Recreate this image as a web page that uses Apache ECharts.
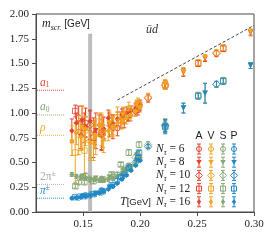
<!DOCTYPE html>
<html><head><meta charset="utf-8">
<script src="https://cdn.jsdelivr.net/npm/echarts@6/dist/echarts.min.js"></script>
<style>html,body{margin:0;padding:0;background:#fff}#c{width:274px;height:240px}</style>
</head><body><div id="c"></div>
<script>
// temperatures (GeV) per N_tau
const T16=[0.140,0.144,0.148,0.152,0.156,0.160,0.164,0.168,0.172,0.176,0.180,0.184,0.188,0.192,0.196,0.200];
const T12=[0.143,0.151,0.159,0.167,0.175,0.183,0.190,0.199,0.222,0.251,0.273];
const T10=[0.146,0.156,0.166,0.176,0.186,0.196,0.207,0.222,0.267];
const T8=[0.149,0.161,0.173,0.185,0.197,0.222,0.238,0.257,0.297];
const T6=[0.152,0.166,0.180,0.190,0.198];

// A channel
const A16=[0.82,0.90,0.78,0.86,0.92,0.80,0.88,0.84,0.95,0.90,0.94,0.98,1.00,1.02,1.05,1.08];
const eA16=[0.12,0.10,0.14,0.10,0.10,0.12,0.10,0.12,0.08,0.08,0.07,0.06,0.06,0.05,0.05,0.05];
const A12=[1.02,0.85,0.75,0.80,0.88,0.93,0.98,1.08,1.28,1.50,1.65];
const eA12=[0.06,0.15,0.20,0.15,0.10,0.08,0.06,0.05,0.04,0.03,0.03];
const A10=[0.95,0.88,0.80,0.86,0.93,1.02,1.15,1.28,1.60];
const eA10=[0.12,0.15,0.18,0.12,0.08,0.05,0.04,0.04,0.03];
const A8=[0.92,0.82,0.88,0.97,1.07,1.29,1.41,1.55,1.81];
const eA8=[0.15,0.18,0.12,0.08,0.05,0.04,0.04,0.03,0.03];
const A6=[0.90,0.78,0.85,0.98,1.03];
const eA6=[0.15,0.15,0.08,0.06,0.05];

// V channel
const V16=[0.72,0.80,0.76,0.84,0.70,0.78,0.88,0.74,0.82,0.86,0.90,0.92,0.95,0.98,1.02,1.06];
const eV16=[0.15,0.12,0.14,0.12,0.16,0.13,0.12,0.14,0.10,0.10,0.08,0.08,0.06,0.06,0.05,0.05];
const V12=[0.60,0.62,0.72,0.80,0.86,0.92,1.00,1.08,1.28,1.51,1.66];
const eV12=[0.30,0.25,0.20,0.15,0.10,0.08,0.06,0.05,0.04,0.03,0.03];
const V10=[0.78,0.72,0.82,0.88,0.96,1.04,1.16,1.28,1.61];
const eV10=[0.20,0.20,0.15,0.10,0.07,0.05,0.04,0.04,0.03];
const V8=[0.85,0.76,0.90,0.98,1.08,1.30,1.42,1.56,1.82];
const eV8=[0.22,0.18,0.12,0.08,0.05,0.04,0.04,0.03,0.03];
const V6=[0.82,0.88,0.96,1.05,1.10];
const eV6=[0.15,0.12,0.10,0.06,0.05];

// S channel
const S16=[0.38,0.36,0.35,0.34,0.33,0.33,0.32,0.32,0.33,0.34,0.36,0.39,0.42,0.46,0.50,0.55];
const eS16=[0.02,0.02,0.02,0.02,0.02,0.02,0.02,0.02,0.02,0.02,0.02,0.02,0.02,0.02,0.02,0.02];
const S12=[0.26,0.30,0.31,0.33,0.38,0.48,0.60,0.68,0.87,1.18,1.33];
const eS12=[0.02,0.02,0.02,0.02,0.02,0.02,0.03,0.03,0.06,0.03,0.03];
const S10=[0.30,0.33,0.33,0.36,0.43,0.55,0.68,0.88,1.29];
const eS10=[0.02,0.02,0.02,0.02,0.02,0.03,0.03,0.06,0.03];
const S8=[0.36,0.34,0.35,0.42,0.57,0.87,1.05,1.20,1.48];
const eS8=[0.02,0.02,0.02,0.02,0.03,0.07,0.05,0.10,0.03];
const S6=[0.37,0.33,0.38,0.47,0.58];
const eS6=[0.02,0.02,0.02,0.02,0.03];

// P channel
const P16=[0.14,0.145,0.15,0.16,0.17,0.18,0.19,0.21,0.23,0.26,0.29,0.33,0.37,0.42,0.47,0.52];
const eP16=[0.01,0.01,0.01,0.01,0.01,0.01,0.01,0.01,0.01,0.01,0.01,0.01,0.01,0.01,0.01,0.01];
const P12=[0.15,0.16,0.18,0.21,0.27,0.35,0.45,0.60,0.86,1.17,1.32];
const eP12=[0.01,0.01,0.01,0.01,0.01,0.02,0.02,0.02,0.05,0.03,0.03];
const P10=[0.15,0.17,0.20,0.27,0.38,0.50,0.66,0.87,1.29];
const eP10=[0.01,0.01,0.01,0.01,0.02,0.02,0.02,0.06,0.03];
const P8=[0.16,0.19,0.25,0.36,0.52,0.86,1.05,1.20,1.48];
const eP8=[0.01,0.01,0.01,0.02,0.02,0.07,0.05,0.10,0.03];
const P6=[0.17,0.22,0.32,0.44,0.55];
const eP6=[0.01,0.01,0.02,0.02,0.02];

// reference hadron masses
const refNames=['a1','a0','rho','2pi','pi'];
const refMasses=[1.23,0.98,0.775,0.279,0.1396];
const refSpan=[0.1094,0.134];
// crossover band and 2*pi*T line
const bandT=[0.1543,0.1578];
const bandTop=1.8;
const thermalT=[0.18,0.30];
const thermalM=[1.131,1.885];
// axes
const xTicks=[0.15,0.20,0.25,0.30];
const xRange=[0.1085,0.30];
const yRange=[0,2];

const colors={A:'#e4442f',V:'#efa522',S:'#88a676',P:'#2188c5'};
const ntaus=[6,8,10,12,16];
const temps={6:T6,8:T8,10:T10,12:T12,16:T16};
const vals={A:{6:A6,8:A8,10:A10,12:A12,16:A16},V:{6:V6,8:V8,10:V10,12:V12,16:V16},
            S:{6:S6,8:S8,10:S10,12:S12,16:S16},P:{6:P6,8:P8,10:P10,12:P12,16:P16}};
const errs={A:{6:eA6,8:eA8,10:eA10,12:eA12,16:eA16},V:{6:eV6,8:eV8,10:eV10,12:eV12,16:eV16},
            S:{6:eS6,8:eS8,10:eS10,12:eS12,16:eS16},P:{6:eP6,8:eP8,10:eP10,12:eP12,16:eP16}};
const refColors=['#e4442f','#88a676','#efa522','#aaaaaa','#2188c5'];

const markerStyle={
  6:{symbol:'circle',size:5.5,hollow:true,rot:0},
  8:{symbol:'triangle',size:5.5,hollow:false,rot:180},
  10:{symbol:'diamond',size:7.5,hollow:true,rot:0},
  12:{symbol:'rect',size:5.5,hollow:true,rot:0},
  16:{symbol:'diamond',size:5.5,hollow:false,rot:0}
};

function errRender(color){
  return function(params,api){
    const x=api.value(0),y=api.value(1),e=api.value(2);
    const lo=api.coord([x,y-e]),hi=api.coord([x,y+e]);
    const w=2;
    const st={stroke:color,lineWidth:1};
    return {type:'group',children:[
      {type:'line',shape:{x1:lo[0],y1:lo[1],x2:hi[0],y2:hi[1]},style:st},
      {type:'line',shape:{x1:lo[0]-w,y1:lo[1],x2:lo[0]+w,y2:lo[1]},style:st},
      {type:'line',shape:{x1:hi[0]-w,y1:hi[1],x2:hi[0]+w,y2:hi[1]},style:st}
    ]};
  };
}

const series=[];
series.push({type:'line',data:[],silent:true,
  markArea:{silent:true,itemStyle:{color:'#bdbdbd'},data:[[{coord:[bandT[0],0]},{coord:[bandT[1],bandTop]}]]}});
series.push({type:'line',data:[[thermalT[0],thermalM[0]],[thermalT[1],thermalM[1]]],symbol:'none',silent:true,
  lineStyle:{color:'#333',width:0.9,type:[3,2]}});
refMasses.forEach((m,i)=>{
  series.push({type:'line',data:[[refSpan[0],m],[refSpan[1],m]],symbol:'none',silent:true,
    lineStyle:{color:refColors[i],width:0.9,type:[1,1]}});
});
['A','V','S','P'].forEach(ch=>{
  ntaus.forEach(n=>{
    const d=temps[n].map((t,i)=>[t,vals[ch][n][i],errs[ch][n][i]]);
    series.push({type:'custom',renderItem:errRender(colors[ch]),data:d,encode:{x:0,y:1},clip:true,silent:true,z:3});
    const ms=markerStyle[n];
    series.push({type:'scatter',data:d.map(p=>[p[0],p[1]]),symbol:ms.symbol,symbolSize:ms.size,symbolRotate:ms.rot,silent:true,z:4,
      itemStyle:ms.hollow?{color:'rgba(255,255,255,0)',borderColor:colors[ch],borderWidth:1}:{color:colors[ch],borderWidth:0,opacity:1}});
  });
});

const chart=echarts.init(document.getElementById('c'),null,{renderer:'canvas'});
const axisCol='#4a4a4a';
const serif='Liberation Serif';
const sans='Liberation Sans';
chart.setOption({
  animation:false,
  grid:{left:36,right:20,top:14,bottom:28,show:true,borderColor:axisCol,borderWidth:1,backgroundColor:'transparent'},
  xAxis:{type:'value',min:xRange[0],max:xRange[1],
    axisLine:{show:true,lineStyle:{color:axisCol}},
    axisTick:{show:true,length:4,lineStyle:{color:axisCol},customValues:xTicks},
    axisLabel:{margin:7,color:'#222',fontFamily:serif,fontSize:11,customValues:xTicks,formatter:v=>v.toFixed(2)},
    splitLine:{show:false}},
  yAxis:{type:'value',min:yRange[0],max:yRange[1],interval:0.25,
    axisLine:{show:true,lineStyle:{color:axisCol}},
    axisTick:{show:true,length:4,lineStyle:{color:axisCol}},
    axisLabel:{margin:7,color:'#222',fontFamily:serif,fontSize:11,formatter:v=>v.toFixed(2)},
    splitLine:{show:false}},
  series:series
});

const g=[];
const it={fontFamily:serif,fontStyle:'italic'};
g.push({type:'text',x:42,y:24,style:{text:'{m|m}{s|scr.}{g| [GeV]}',verticalAlign:'middle',
  rich:{m:{...it,fontSize:12,lineHeight:16,fill:'#222'},s:{...it,fontSize:8,lineHeight:8,verticalAlign:'bottom',fill:'#222'},
        g:{fontFamily:sans,fontSize:10,lineHeight:16,fill:'#222'}}}});
g.push({type:'text',x:146,y:30,style:{text:'ūd',verticalAlign:'middle',font:'italic 12px "Liberation Serif"',fill:'#333'}});
g.push({type:'text',x:120,y:202,style:{text:'{t|T}{g|[GeV]}',verticalAlign:'middle',
  rich:{t:{...it,fontSize:12,lineHeight:16,fill:'#222'},g:{fontFamily:sans,fontSize:9.5,lineHeight:16,fill:'#222'}}}});

const refTexts=['{a|a}{s|1}','{a|a}{s|0}','{a|ρ}','{n|2π}{p|±}','{a|π}{p|±}'];
refMasses.forEach((m,i)=>{
  const p=chart.convertToPixel({gridIndex:0},[refSpan[0],m]);
  g.push({type:'text',x:p[0]+3,y:p[1]-1,style:{text:refTexts[i],verticalAlign:'bottom',
    rich:{a:{...it,fontSize:11.5,lineHeight:13,fill:refColors[i]},n:{fontFamily:serif,fontSize:11.5,lineHeight:13,fill:refColors[i]},
          s:{fontFamily:serif,fontSize:7.5,lineHeight:7,verticalAlign:'bottom',fill:refColors[i]},
          p:{fontFamily:serif,fontSize:7.5,lineHeight:7,verticalAlign:'top',fill:refColors[i]}}}});
});

const colX=[199,211,223,234];
const rowY=[149,162.2,175.4,188.6,201.8];
['A','V','S','P'].forEach((ch,j)=>{
  g.push({type:'text',x:colX[j],y:136,style:{text:ch,align:'center',verticalAlign:'middle',font:'10.5px "Liberation Sans"',fill:'#222'}});
});
function icon(n,x,y,c){
  const out=[];
  const st={stroke:c,lineWidth:1};
  out.push({type:'line',shape:{x1:x,y1:y-5,x2:x,y2:y+5},style:st});
  out.push({type:'line',shape:{x1:x-2,y1:y-5,x2:x+2,y2:y-5},style:st});
  out.push({type:'line',shape:{x1:x-2,y1:y+5,x2:x+2,y2:y+5},style:st});
  const hol={fill:'none',stroke:c,lineWidth:1};
  if(n===6) out.push({type:'circle',shape:{cx:x,cy:y,r:2.5},style:hol});
  if(n===8) out.push({type:'polygon',shape:{points:[[x-2.8,y-2.2],[x+2.8,y-2.2],[x,y+2.6]]},style:{fill:c}});
  if(n===10) out.push({type:'polygon',shape:{points:[[x,y-3.5],[x+3.5,y],[x,y+3.5],[x-3.5,y]]},style:hol});
  if(n===12) out.push({type:'rect',shape:{x:x-2.5,y:y-2.5,width:5,height:5},style:hol});
  if(n===16) out.push({type:'polygon',shape:{points:[[x,y-2.8],[x+2.2,y],[x,y+2.8],[x-2.2,y]]},style:{fill:c}});
  return out;
}
ntaus.forEach((n,r)=>{
  g.push({type:'text',x:156,y:rowY[r],style:{text:'{n|N}{s|τ}{e| = '+n+'}',verticalAlign:'middle',
    rich:{n:{...it,fontSize:11.5,lineHeight:15,fill:'#222'},s:{...it,fontSize:8,lineHeight:8,verticalAlign:'bottom',fill:'#222'},
          e:{fontFamily:serif,fontSize:11.5,lineHeight:15,fill:'#222'}}}});
  ['A','V','S','P'].forEach((ch,j)=>{ icon(n,colX[j],rowY[r],colors[ch]).forEach(e=>g.push(e)); });
});
chart.setOption({graphic:g});
</script></body></html>
